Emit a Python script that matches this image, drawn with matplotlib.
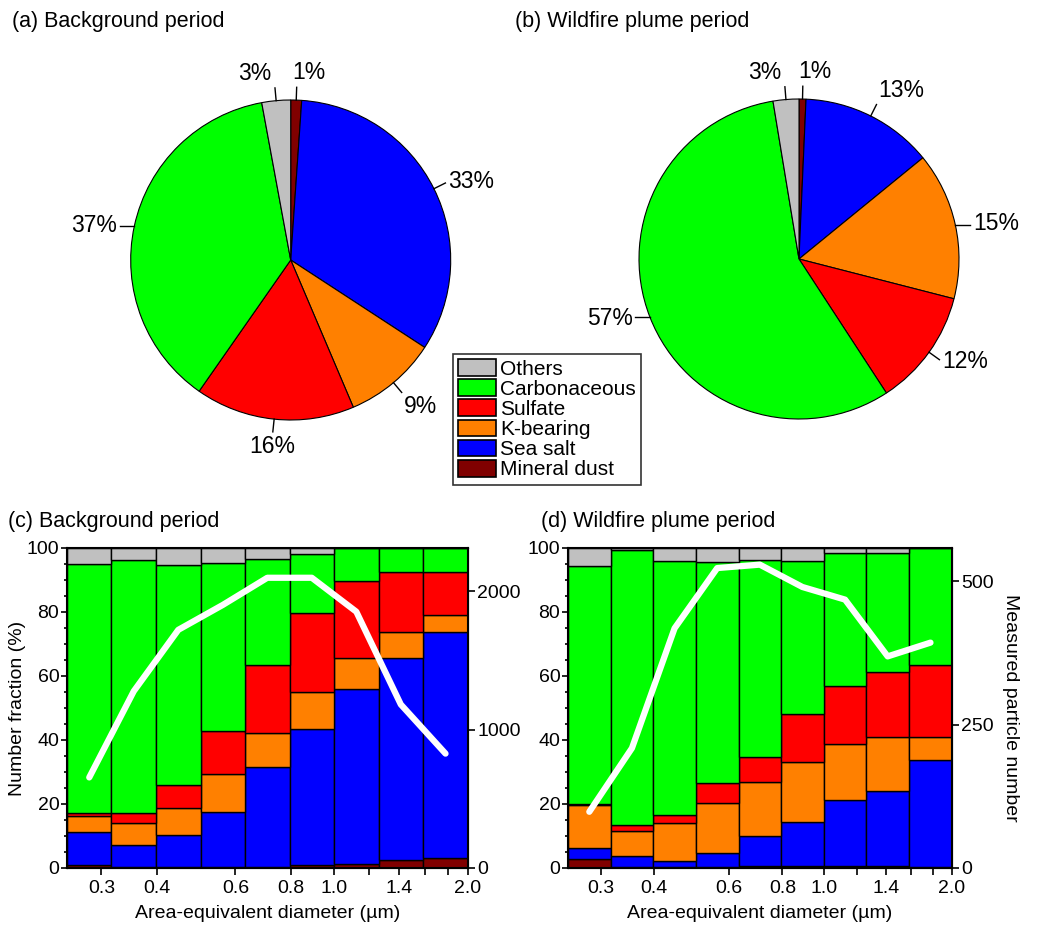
import numpy as np
import matplotlib
matplotlib.use('Agg')
import matplotlib.pyplot as plt
from matplotlib.patches import Patch
from matplotlib.ticker import MultipleLocator, NullLocator

plt.rcParams['font.family'] = ['Liberation Sans', 'DejaVu Sans']

#%% data
classes = ['Others', 'Carbonaceous', 'Sulfate', 'K-bearing', 'Sea salt', 'Mineral dust']
colors = {'Others': '#c0c0c0', 'Carbonaceous': '#00ff00', 'Sulfate': '#ff0000',
          'K-bearing': '#ff8000', 'Sea salt': '#0000ff', 'Mineral dust': '#800000'}

# pie order, clockwise from 12 o'clock
pie_order = ['Mineral dust', 'Sea salt', 'K-bearing', 'Sulfate', 'Carbonaceous', 'Others']
pie_background = [1.1, 33.1, 9.4, 16.1, 37.4, 2.9]
pie_wildfire = [0.7, 13.4, 14.9, 11.8, 56.6, 2.6]

# size bins (um), log spaced
bin_edges = [0.251, 0.316, 0.398, 0.501, 0.631, 0.794, 1.0, 1.259, 1.585, 2.0]

# number fraction (%) per class and bin, background period
mineral_c = [1.0, 0.3, 0.2, 0.2, 0.4, 0.8, 1.4, 2.4, 3.1]
seasalt_c = [10.4, 7.0, 10.0, 17.2, 31.3, 42.7, 54.4, 63.2, 70.5]
kbearing_c = [4.8, 6.8, 8.5, 11.9, 10.6, 11.4, 9.8, 8.1, 5.5]
sulfate_c = [1.0, 3.1, 7.1, 13.5, 21.0, 24.7, 24.0, 18.8, 13.4]
carbon_c = [77.9, 79.0, 68.8, 52.5, 33.4, 18.4, 10.4, 7.5, 7.5]
others_c = [4.9, 3.8, 5.4, 4.7, 3.3, 2.0, 0.0, 0.0, 0.0]
count_c = [654, 1277, 1720, 1900, 2096, 2096, 1851, 1181, 826]

# wildfire plume period
mineral_d = [2.9, 0.3, 0.2, 0.2, 0.5, 0.5, 0.5, 0.5, 0.3]
seasalt_d = [3.2, 3.4, 1.9, 4.6, 9.4, 13.9, 20.7, 23.6, 33.4]
kbearing_d = [13.7, 7.8, 12.0, 15.6, 17.0, 18.8, 17.4, 16.7, 7.1]
sulfate_d = [0.2, 1.9, 2.4, 6.2, 7.7, 14.8, 18.4, 20.4, 22.5]
carbon_d = [74.5, 85.9, 79.5, 69.1, 61.7, 48.0, 41.4, 37.2, 36.7]
others_d = [5.5, 0.7, 4.0, 4.3, 3.7, 4.0, 1.6, 1.6, 0.0]
count_d = [98, 209, 418, 523, 529, 490, 468, 369, 393]

xticks = [0.3, 0.4, 0.6, 0.8, 1.0, 1.2, 1.4, 1.6, 1.8, 2.0]
xticklabels = ['0.3', '0.4', '0.6', '0.8', '1.0', '', '1.4', '', '', '2.0']

#%% figure
W, H = 1037, 926
fig = plt.figure(figsize=(W / 100, H / 100), dpi=100)


def px_axes(left, top, width, height):
    return fig.add_axes([left / W, 1 - (top + height) / H, width / W, height / H])


def draw_pie(ax, values):
    ax.pie(values, colors=[colors[k] for k in pie_order], startangle=90,
           counterclock=False, radius=1,
           wedgeprops=dict(edgecolor='black', linewidth=0.8))
    ax.set_xlim(-1.3, 1.3)
    ax.set_ylim(-1.3, 1.3)
    ax.set_aspect('equal')
    ax.axis('off')
    cum = 0
    total = sum(values)
    for i, v in enumerate(values):
        mid = (cum + v / 2) / total * 2 * np.pi
        cum += v
        x, y = np.sin(mid), np.cos(mid)
        if abs(x) > 0.9:
            # horizontal leader on the far sides
            ex, ey = x + np.sign(x) * 0.09, y
        else:
            ex, ey = 1.08 * x, 1.08 * y
        ax.plot([x, ex], [y, ey], color='black', lw=1)
        tx, ty = ex + 0.02 * x, ey + 0.02 * y
        ha = 'left' if x > 0.3 else ('right' if x < -0.3 else 'center')
        va = 'bottom' if y > 0.7 else ('top' if y < -0.7 else 'center')
        if y > 0.95:
            ha = 'left' if x > 0 else 'right'
            tx = ex - 0.03 if x > 0 else ex - 0.02
        ax.text(tx, ty, f'{v:.0f}%', ha=ha, va=va, fontsize=16.5)


ax_a = px_axes(290.7 - 208, 260 - 208, 416, 416)
draw_pie(ax_a, pie_background)
ax_b = px_axes(799 - 208, 259 - 208, 416, 416)
draw_pie(ax_b, pie_wildfire)


def draw_bars(ax, stacks, counts, right_top, right_ticks):
    left = np.array(bin_edges[:-1])
    width = np.array(bin_edges[1:]) - left
    bottom = np.zeros(len(left))
    for name, vals in stacks:
        ax.bar(left, vals, width=width, bottom=bottom, align='edge',
               color=colors[name], edgecolor='black', linewidth=1)
        bottom += np.array(vals)
    ax.set_xscale('log')
    ax.set_xlim(bin_edges[0], bin_edges[-1])
    ax.set_ylim(0, 100)
    ax.set_xticks(xticks)
    ax.set_xticklabels(xticklabels)
    ax.xaxis.set_minor_locator(NullLocator())
    ax.yaxis.set_major_locator(MultipleLocator(20))
    ax.yaxis.set_minor_locator(MultipleLocator(5))
    ax.tick_params(which='major', direction='out', length=4, width=1.2,
                   labelsize=14, pad=1.5)
    ax.tick_params(axis='x', which='major', length=5, pad=3.5)
    ax.tick_params(which='minor', direction='out', length=2.5, width=1.2)
    for s in ax.spines.values():
        s.set_linewidth(1.5)
    ax2 = ax.twinx()
    centers = np.sqrt(np.array(bin_edges[:-1]) * np.array(bin_edges[1:]))
    ax2.plot(centers, counts, color='white', lw=4.5,
             solid_capstyle='round', solid_joinstyle='round')
    ax2.set_ylim(0, right_top)
    ax2.set_yticks(right_ticks)
    ax2.tick_params(direction='out', length=5, width=1.2, labelsize=14, pad=1.5)
    ax2.set_xlim(bin_edges[0], bin_edges[-1])
    return ax2


stack_c = [('Mineral dust', mineral_c), ('Sea salt', seasalt_c), ('K-bearing', kbearing_c),
           ('Sulfate', sulfate_c), ('Carbonaceous', carbon_c), ('Others', others_c)]
stack_d = [('Mineral dust', mineral_d), ('Sea salt', seasalt_d), ('K-bearing', kbearing_d),
           ('Sulfate', sulfate_d), ('Carbonaceous', carbon_d), ('Others', others_d)]

ax_c = px_axes(67, 548, 401, 320)
ax_c2 = draw_bars(ax_c, stack_c, count_c, 2311, [0, 1000, 2000])
ax_c.set_ylabel('Number fraction (%)', fontsize=14)
ax_c.yaxis.set_label_coords((26 - 67) / 401, 0.5)
ax_c.set_xlabel('Area-equivalent diameter (µm)', fontsize=14)
ax_c.xaxis.set_label_coords(0.5, -(905 - 868) / 320)

ax_d = px_axes(568, 548, 384, 320)
ax_d2 = draw_bars(ax_d, stack_d, count_d, 558, [0, 250, 500])
ax_d.set_xlabel('Area-equivalent diameter (µm)', fontsize=14)
ax_d.xaxis.set_label_coords(0.5, -(905 - 868) / 320)
ax_d2.set_ylabel('Measured particle number', fontsize=14, rotation=270, va='center')
ax_d2.yaxis.set_label_coords((1010 - 568) / 384, 0.5)

# panel titles
fig.text(12 / W, 1 - 22 / H, '(a) Background period', fontsize=15.5, va='center')
fig.text(515 / W, 1 - 22 / H, '(b) Wildfire plume period', fontsize=15.5, va='center')
fig.text(8 / W, 1 - 521 / H, '(c) Background period', fontsize=15.5, va='center')
fig.text(541 / W, 1 - 521 / H, '(d) Wildfire plume period', fontsize=15.5, va='center')

handles = [Patch(facecolor=colors[k], edgecolor='black', linewidth=1.2) for k in classes]
leg = fig.legend(handles, classes, loc='upper left', bbox_to_anchor=(453 / W, 1 - 354 / H),
                 fontsize=15, frameon=True, fancybox=False, edgecolor='black',
                 handlelength=1.8, handleheight=0.85, handletextpad=0.2,
                 labelspacing=0.03, borderpad=0.25, borderaxespad=0)
leg.get_frame().set_linewidth(1.2)

plt.savefig('out.png', dpi=100)
plt.close()
